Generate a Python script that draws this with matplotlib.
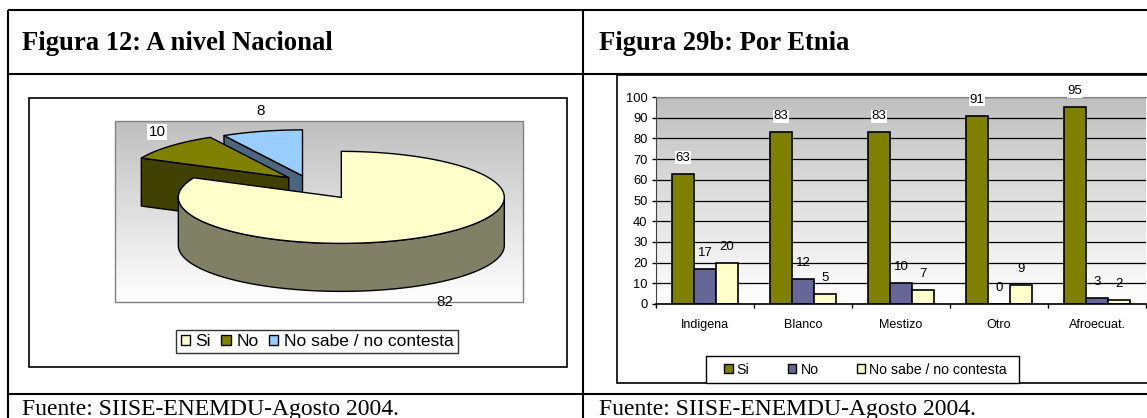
import numpy as np
import matplotlib
matplotlib.use("Agg")
import matplotlib.pyplot as plt
from matplotlib.patches import Polygon, Rectangle, Patch

FILE_FIG = "out.png"
W, H = 1147, 418  # figure size in pixels (dpi 100)
# --------------------------------------------------------------------------------------------------
# data
PIE_LABELS = ["Si", "No", "No sabe / no contesta"]
PIE_VALUES = [82, 10, 8]

ETNIAS = ["Indigena", "Blanco", "Mestizo", "Otro", "Afroecuat."]
SI = [63, 83, 83, 91, 95]
NO = [17, 12, 10, 0, 3]
NSNC = [20, 5, 7, 9, 2]
SERIES = ["Si", "No", "No sabe / no contesta"]
# --------------------------------------------------------------------------------------------------
# styles
PIE_TOP = ["#ffffcc", "#808000", "#99ccff"]
PIE_SIDE = ["#808066", "#404000", "#4d6680"]
PIE_EXPLODE = [0.37, 0.17, 0.16]
PIE_LABEL_BOX = [False, True, False]
BAR_COLORS = ["#808000", "#666699", "#ffffcc"]

SANS = "Liberation Sans"
SERIF = "Liberation Serif"


def gradient(top=0.75, bottom=1.0, n=256):
    g = np.linspace(top, bottom, n)[:, None]
    return np.dstack([g, g, g])


def pie3d(ax, values, cx, cy, a, b, depth):
    total = float(sum(values))
    start = 90.0
    slices = []
    for i, v in enumerate(values):
        sweep = 360.0 * v / total
        t1, t2 = start - sweep, start
        m = np.radians((t1 + t2) / 2)
        ox = cx + PIE_EXPLODE[i] * a * np.cos(m)
        oy = cy - PIE_EXPLODE[i] * b * np.sin(m)
        slices.append((i, t1, t2, ox, oy, m))
        start = t1

    def pt(ox, oy, t, dz=0.0):
        return (ox + a * np.cos(t), oy - b * np.sin(t) + dz)

    # back slices first
    for i, t1, t2, ox, oy, m in sorted(slices, key=lambda s: -np.sin(s[5])):
        r1, r2 = np.radians(t1), np.radians(t2)
        kw = dict(edgecolor="black", linewidth=1.0, joinstyle="round")
        # radial face at t2
        if np.cos(r2) < -1e-6:
            p = pt(ox, oy, r2)
            ax.add_patch(Polygon([(ox, oy), p, (p[0], p[1] + depth), (ox, oy + depth)],
                                 facecolor=PIE_SIDE[i], **kw))
        # radial face at t1
        if np.cos(r1) > 1e-6:
            p = pt(ox, oy, r1)
            ax.add_patch(Polygon([(ox, oy), p, (p[0], p[1] + depth), (ox, oy + depth)],
                                 facecolor=PIE_SIDE[i], **kw))
        # curved front side
        ts = np.linspace(r1, r2, 400)
        front = ts[np.sin(ts) <= 0]
        if len(front) > 1:
            top = [pt(ox, oy, t) for t in front]
            bot = [pt(ox, oy, t, depth) for t in front[::-1]]
            ax.add_patch(Polygon(top + bot, facecolor=PIE_SIDE[i], **kw))
        # top face
        arc = [pt(ox, oy, t) for t in ts]
        ax.add_patch(Polygon([(ox, oy)] + arc, facecolor=PIE_TOP[i], **kw))
        # value label
        lx = ox + 1.14 * a * np.cos(m) + 4
        ly = oy - 1.45 * b * np.sin(m) + (depth if np.sin(m) < 0 else 0)
        bbox = dict(facecolor="white", edgecolor="none", pad=1) if PIE_LABEL_BOX[i] else None
        ax.text(lx, ly, "{0:d}".format(values[i]), ha="center", va="center",
                fontsize=11, family=SANS, bbox=bbox, zorder=5)


def main():
    fig = plt.figure(figsize=(W / 100, H / 100), dpi=100)
    fig.patch.set_facecolor("white")

    # pixel overlay for table frame and the pie
    ax0 = fig.add_axes([0, 0, 1, 1], zorder=0)
    ax0.set_xlim(0, W)
    ax0.set_ylim(H, 0)
    ax0.axis("off")

    lw = 1.5
    for y in (10, 73.5, 394):
        ax0.plot([7.5, W], [y, y], color="black", linewidth=lw, solid_capstyle="butt")
    for x in (7.5, 583):
        ax0.plot([x, x], [10, H], color="black", linewidth=lw, solid_capstyle="butt")

    ax0.text(22, 50, "Figura 12: A nivel Nacional", family=SERIF, weight="bold",
             fontsize=19.2, va="baseline")
    ax0.text(599, 50, "Figura 29b: Por Etnia", family=SERIF, weight="bold",
             fontsize=19.2, va="baseline")
    for x in (22, 599):
        ax0.text(x, 415, "Fuente: SIISE-ENEMDU-Agosto 2004.", family=SERIF,
                 fontsize=17, va="baseline")

    # ---------------------------------------------------------------------------------------------
    # left: 3D pie
    ax0.add_patch(Rectangle((29, 98), 538, 269, facecolor="white", edgecolor="black",
                            linewidth=1.2))
    ax0.imshow(gradient(0.75, 1.0), extent=(115, 523, 302, 121), aspect="auto",
               interpolation="bilinear", zorder=1)
    ax0.add_patch(Rectangle((115, 121), 408, 181, facecolor="none", edgecolor="#808080",
                            linewidth=1.0, zorder=2))
    ax0.set_xlim(0, W)
    ax0.set_ylim(H, 0)

    pie3d(ax0, PIE_VALUES, 309, 183, 163, 46, 48)

    handles = [Patch(facecolor=c, edgecolor="black", linewidth=1.0) for c in PIE_TOP]
    leg = ax0.legend(handles, PIE_LABELS, ncol=3, loc="center",
                     bbox_to_anchor=(317 / W, 1 - 341.5 / H),
                     bbox_transform=fig.transFigure,
                     prop={"family": SANS, "size": 12.5}, handlelength=0.55,
                     handleheight=0.55, handletextpad=0.3, columnspacing=0.6,
                     borderpad=0.25, borderaxespad=0, fancybox=False, frameon=True)
    leg.get_frame().set_edgecolor("black")
    leg.get_frame().set_linewidth(1.0)

    # right: chart box and legend box
    ax0.add_patch(Rectangle((617, 75), 600, 308, facecolor="white", edgecolor="black",
                            linewidth=1.2))
    ax0.add_patch(Rectangle((706, 356), 313, 27, facecolor="white", edgecolor="black",
                            linewidth=1.0, zorder=3))

    # ---------------------------------------------------------------------------------------------
    # right: grouped bars
    ax = fig.add_axes([656 / W, (H - 304) / H, 490 / W, 207 / H], zorder=1)
    ax.patch.set_visible(False)
    ax.imshow(gradient(0.75, 1.0), extent=(0, len(ETNIAS), 0, 100), aspect="auto",
              interpolation="bilinear", zorder=0)
    ax.set_xlim(0, len(ETNIAS))
    ax.set_ylim(0, 100)
    ax.set_axisbelow(True)
    ax.yaxis.grid(True, color="black", linewidth=0.9)

    bw = 1.0 / (3 + 1.5)
    x = np.arange(len(ETNIAS))
    for k, (vals, col) in enumerate(zip([SI, NO, NSNC], BAR_COLORS)):
        xs = x + 0.75 * bw + (k + 0.5) * bw
        ax.bar(xs, vals, width=bw, color=col, edgecolor="black", linewidth=1.2,
               zorder=2, label=SERIES[k])
        for xx, v in zip(xs, vals):
            bbox = dict(facecolor="white", edgecolor="none", pad=0.5) if k == 0 else None
            ax.annotate("{0:d}".format(v), (xx, v), xytext=(0, 11.5),
                        textcoords="offset points", ha="center", va="center",
                        fontsize=9.5, family=SANS, bbox=bbox,
                        annotation_clip=False, zorder=4)

    ax.set_yticks(np.arange(0, 101, 10))
    ax.set_yticklabels(["{0:d}".format(v) for v in range(0, 101, 10)],
                       family=SANS, fontsize=9.3)
    ax.tick_params(axis="y", length=3, width=1.0, pad=3, color="black")
    ax.set_xticks(np.arange(0, len(ETNIAS) + 1))
    ax.set_xticklabels([])
    ax.set_xticks(x + 0.5, minor=True)
    ax.set_xticklabels(ETNIAS, minor=True, family=SANS, fontsize=9)
    ax.tick_params(axis="x", which="major", length=3, width=1.0, color="black")
    ax.tick_params(axis="x", which="minor", length=0, pad=11)

    ax.spines["right"].set_visible(False)
    ax.spines["top"].set_color("#808080")
    ax.spines["left"].set_color("#404040")
    ax.spines["bottom"].set_color("black")
    ax.spines["bottom"].set_linewidth(1.2)

    handles = [Patch(facecolor=c, edgecolor="black", linewidth=1.0) for c in BAR_COLORS]
    leg2 = ax0.legend(handles, SERIES, ncol=3, loc="center", mode="expand",
                      bbox_to_anchor=(724 / W, 1 - 383 / H, 283 / W, 27 / H),
                      bbox_transform=fig.transFigure,
                      prop={"family": SANS, "size": 10.2}, handlelength=0.6,
                      handleheight=0.6, handletextpad=0.3, borderpad=0.0,
                      borderaxespad=0, frameon=False)
    leg2.set_zorder(4)
    ax0.add_artist(leg)

    fig.savefig(FILE_FIG, dpi=100)
    plt.close(fig)
# --------------------------------------------------------------------------------------------------


if __name__ == '__main__':
    main()
